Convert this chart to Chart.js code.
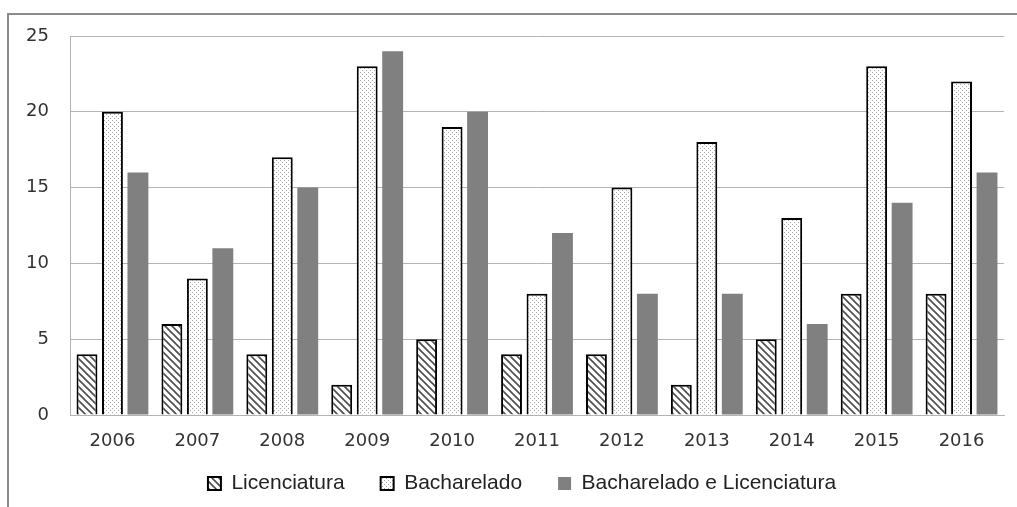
<!DOCTYPE html>
<html>
<head>
<meta charset="utf-8">
<script src="https://cdn.jsdelivr.net/npm/chart.js@4/dist/chart.umd.min.js"></script>
<style>
  html, body { margin: 0; padding: 0; background: #fff; }
  #wrap { position: relative; width: 1017px; height: 507px; overflow: hidden; }
  #frame { position: absolute; left: 7px; top: 13px; width: 1100px; height: 600px;
           border-top: 2px solid #8c8c8c; border-left: 2px solid #8c8c8c; pointer-events: none; }
</style>
</head>
<body>
<div id="wrap">
  <canvas id="myChart" width="1017" height="507"></canvas>
  <div id="frame"></div>
</div>
<script>
const years = ['2006', '2007', '2008', '2009', '2010', '2011', '2012', '2013', '2014', '2015', '2016'];
const licenciatura = [4, 6, 4, 2, 5, 4, 4, 2, 5, 8, 8];
const bacharelado = [20, 9, 17, 23, 19, 8, 15, 18, 13, 23, 22];
const bachLic = [16, 11, 15, 24, 20, 12, 8, 8, 6, 14, 16];
const yMax = 25;
const yStep = 5;

// diagonal hatch, lines going from top-left to bottom-right
function hatchPattern() {
    const c = document.createElement('canvas');
    c.width = 7; c.height = 7;
    const g = c.getContext('2d');
    g.fillStyle = '#fff';
    g.fillRect(0, 0, 7, 7);
    g.strokeStyle = '#4d4d4d';
    g.lineWidth = 1.6;
    g.beginPath();
    g.moveTo(-1, -1); g.lineTo(8, 8);
    g.moveTo(-1, 6); g.lineTo(1, 8);
    g.moveTo(6, -1); g.lineTo(8, 1);
    g.stroke();
    return g.createPattern(c, 'repeat');
}

// sparse dots
function dotPattern() {
    const c = document.createElement('canvas');
    c.width = 4; c.height = 4;
    const g = c.getContext('2d');
    g.fillStyle = '#fff';
    g.fillRect(0, 0, 4, 4);
    g.fillStyle = '#a6a6a6';
    g.fillRect(0, 0, 1, 1);
    g.fillRect(2, 2, 1, 1);
    return g.createPattern(c, 'repeat');
}

// nudge the legend so it sits where the original one is
// (only the top moves up, the bottom stays so the clip box still holds the text)
const legendShift = {
    id: 'legendShift',
    afterLayout(chart) {
        const lg = chart.legend;
        if (lg) {
            lg.left += 20;
            lg.right += 20;
            lg.top -= 23;
        }
    }
};

const ctx = document.getElementById('myChart').getContext('2d');

const myChart = new Chart(ctx, {
    type: 'bar',
    data: {
        labels: years,
        datasets: [{
            label: 'Licenciatura',
            data: licenciatura,
            backgroundColor: hatchPattern(),
            borderColor: '#000',
            borderWidth: 2
        }, {
            label: 'Bacharelado',
            data: bacharelado,
            backgroundColor: dotPattern(),
            borderColor: '#000',
            borderWidth: 2
        }, {
            label: 'Bacharelado e Licenciatura',
            data: bachLic,
            backgroundColor: '#808080',
            borderWidth: 0
        }]
    },
    options: {
        responsive: false,
        animation: false,
        categoryPercentage: 0.9,
        barPercentage: 0.82,
        layout: {
            padding: { top: 36, right: 13, bottom: 1, left: 0 }
        },
        scales: {
            x: {
                grid: { display: false, drawTicks: false },
                border: { display: true, color: '#b3b3b3', width: 1 },
                ticks: {
                    color: '#333',
                    padding: 16,
                    font: { family: 'DejaVu Sans', size: 18 }
                },
                afterFit(scale) { scale.height = 45; }
            },
            y: {
                min: 0,
                max: yMax,
                grid: { color: '#b3b3b3', drawTicks: false },
                border: { display: true, color: '#b3b3b3', width: 1 },
                ticks: {
                    stepSize: yStep,
                    color: '#333',
                    padding: 21,
                    font: { family: 'DejaVu Sans', size: 18 }
                },
                afterFit(scale) { scale.width = 70; }
            }
        },
        plugins: {
            legend: {
                position: 'bottom',
                maxHeight: 46,
                labels: {
                    boxWidth: 13,
                    boxHeight: 13,
                    padding: 36,
                    color: '#222',
                    font: { family: 'Liberation Sans', size: 21 }
                }
            },
            tooltip: { enabled: false }
        }
    },
    plugins: [legendShift]
});
</script>
</body>
</html>
